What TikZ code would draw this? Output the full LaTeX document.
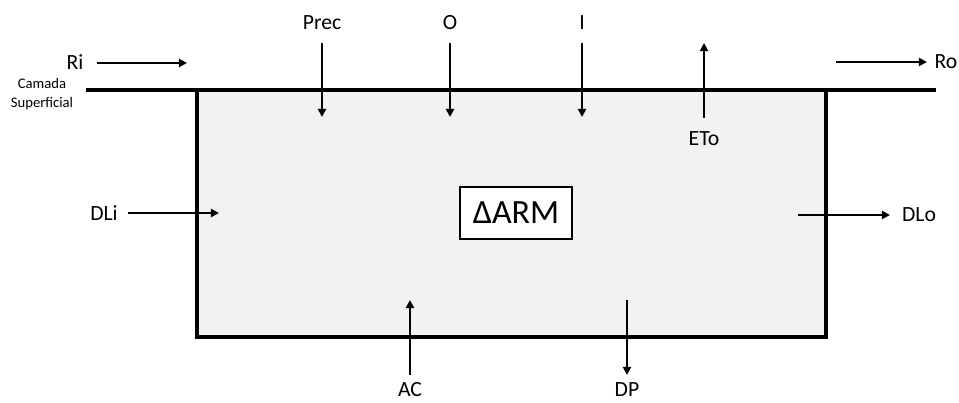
\documentclass[tikz,border=0pt]{standalone}
\usepackage{fontspec}
\setmainfont{Carlito}
\usepackage{tikz}
\usetikzlibrary{arrows.meta}

\tikzset{
  fluxo/.style={line width=1.7pt,-{Triangle[length=7pt,width=7pt]}},
  rotulo/.style={font=\fontsize{18.5}{21}\selectfont,inner sep=0pt},
  parede/.style={line width=2.6pt,line join=miter},
}

\begin{document}
\begin{tikzpicture}[x=0.03cm,y=-0.03cm]
  \useasboundingbox (0,0) rectangle (959,403);
  % reservatorio
  \fill[gray!10] (197,90) rectangle (826,337);
  \draw[parede] (197,90) -- (197,337) -- (826,337) -- (826,90);
  \draw[parede] (86,90) -- (936,90);
  \node[font=\fontsize{12.5}{16}\selectfont,align=center] (camada) at (42,94) {Camada\\Superficial};
  \node[draw,line width=0.9pt,fill=white,minimum width=112*0.03cm,minimum height=52*0.03cm,
        font=\fontsize{29}{34}\selectfont] (arm) at (516,213) {ΔARM};

  % entradas e saidas pelo topo
  \foreach \x/\n in {322/Prec,450/O,582/I}{
    \node[rotulo] (\n) at (\x,23) {\n};
    \coordinate (\n-a) at (\x,43);
    \coordinate (\n-b) at (\x,117);
    \draw[fluxo] (\n-a) -- (\n-b);
  }
  \node[rotulo] (eto) at (704,139) {ETo};
  \coordinate (eto-a) at (704,118);
  \coordinate (eto-b) at (704,43);
  \draw[fluxo] (eto-a) -- (eto-b);

  % escoamento superficial
  \node[rotulo] (ri) at (75,62) {Ri};
  \coordinate (ri-a) at (97,63);
  \coordinate (ri-b) at (187,63);
  \draw[fluxo] (ri-a) -- (ri-b);
  \node[rotulo] (ro) at (946,62) {Ro};
  \coordinate (ro-a) at (836,62);
  \coordinate (ro-b) at (927,62);
  \draw[fluxo] (ro-a) -- (ro-b);

  % fluxo lateral
  \node[rotulo] (dli) at (104,213) {DLi};
  \coordinate (dli-a) at (128,213);
  \coordinate (dli-b) at (219,213);
  \draw[fluxo] (dli-a) -- (dli-b);
  \node[rotulo] (dlo) at (919,215) {DLo};
  \coordinate (dlo-a) at (798,215);
  \coordinate (dlo-b) at (890,215);
  \draw[fluxo] (dlo-a) -- (dlo-b);

  % fundo
  \node[rotulo] (ac) at (410,390) {AC};
  \coordinate (ac-a) at (410,375);
  \coordinate (ac-b) at (410,300);
  \draw[fluxo] (ac-a) -- (ac-b);
  \node[rotulo] (dp) at (627,390) {DP};
  \coordinate (dp-a) at (627,300);
  \coordinate (dp-b) at (627,375);
  \draw[fluxo] (dp-a) -- (dp-b);
\end{tikzpicture}
\end{document}
